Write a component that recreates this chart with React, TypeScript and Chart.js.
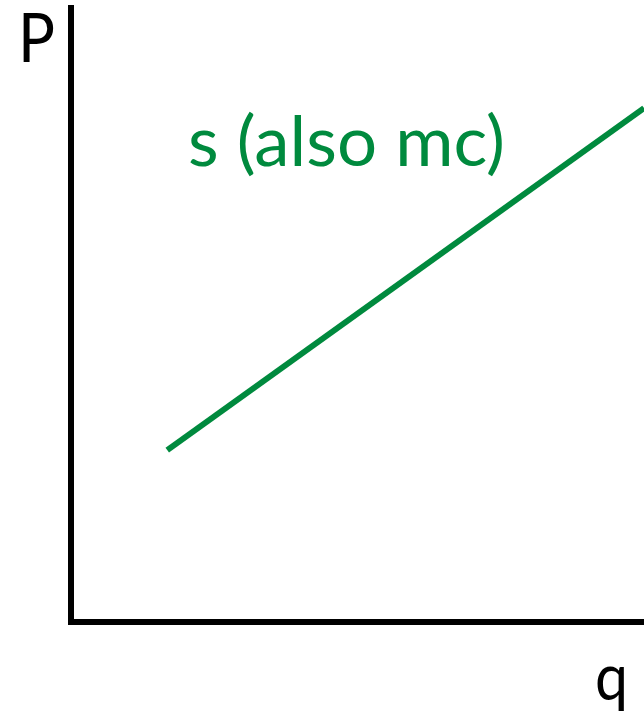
import React, { useEffect, useRef } from "react";
import { Chart, registerables } from "chart.js";

Chart.register(...registerables);

// Supply curve endpoints (quantity, price) on a 0–10 scale
const supplyQ = [1.68, 10];
const supplyP = [2.8, 8.37];

const axisMin = 0;
const axisMax = 10;

const curveLabel = "s (also mc)";
const priceLabel = "P";
const quantityLabel = "q";

const GREEN = "#008A3E";
const FONT = "Lato, 'Open Sans', sans-serif";

// Draws the axis letters and the curve label
const labelsPlugin = {
  id: "diagramLabels",
  afterDraw(chart: Chart) {
    const { ctx } = chart;
    const fitText = (
      text: string,
      x: number,
      baseline: number,
      size: number,
      width: number,
      color: string
    ) => {
      ctx.save();
      ctx.font = `${size}px ${FONT}`;
      ctx.fillStyle = color;
      ctx.textAlign = "left";
      ctx.textBaseline = "alphabetic";
      const m = ctx.measureText(text).width;
      const sx = width / m;
      ctx.translate(x, baseline);
      ctx.scale(sx, 1);
      ctx.fillText(text, 0, 0);
      ctx.restore();
    };
    fitText(priceLabel, 18, 62, 67, 37, "#000");
    fitText(quantityLabel, 595, 700, 64, 33, "#000");
    fitText(curveLabel, 188, 166, 70, 317, GREEN);
  },
};

export default function App() {
  const canvasRef = useRef<HTMLCanvasElement | null>(null);

  useEffect(() => {
    document.body.style.margin = "0";
    const canvas = canvasRef.current;
    if (!canvas) return;
    const chart = new Chart(canvas, {
      type: "scatter",
      data: {
        datasets: [
          {
            label: curveLabel,
            data: supplyQ.map((q, i) => ({ x: q, y: supplyP[i] })),
            showLine: true,
            borderColor: GREEN,
            borderWidth: 6,
            pointRadius: 0,
            fill: false,
          },
        ],
      },
      options: {
        responsive: false,
        animation: false,
        devicePixelRatio: 1,
        layout: { padding: { left: 71, top: 8, right: 0, bottom: 94 } },
        plugins: {
          legend: { display: false },
          tooltip: { enabled: false },
        },
        scales: {
          x: {
            type: "linear",
            min: axisMin,
            max: axisMax,
            grid: { display: false, drawTicks: false, tickLength: 0 },
            ticks: { display: false },
            border: { display: true, color: "#000", width: 6 },
          },
          y: {
            type: "linear",
            min: axisMin,
            max: axisMax,
            grid: { display: false, drawTicks: false, tickLength: 0 },
            ticks: { display: false },
            border: { display: true, color: "#000", width: 6 },
          },
        },
      },
      plugins: [labelsPlugin],
    });
    return () => chart.destroy();
  }, []);

  return (
    <div style={{ position: "absolute", left: 0, top: 0, width: 644, height: 716, background: "#fff" }}>
      <canvas ref={canvasRef} width={644} height={716} style={{ display: "block" }} />
    </div>
  );
}
